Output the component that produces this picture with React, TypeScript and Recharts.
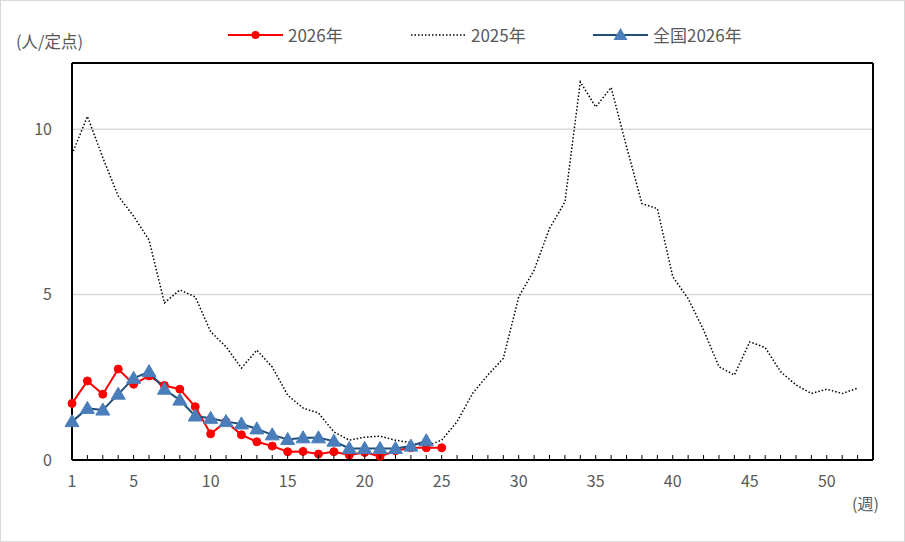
import React from 'react';
import { ComposedChart, Line, XAxis, YAxis, CartesianGrid, ReferenceLine } from 'recharts';

const weeks = [1,2,3,4,5,6,7,8,9,10,11,12,13,14,15,16,17,18,19,20,21,22,23,24,25,26,27,28,29,30,31,32,33,34,35,36,37,38,39,40,41,42,43,44,45,46,47,48,49,50,51,52];

const pref2026 = [1.71,2.39,1.99,2.75,2.29,2.54,2.25,2.14,1.61,0.79,1.16,0.76,0.55,0.42,0.25,0.26,0.18,0.25,0.15,0.23,0.11,0.28,0.37,0.37,0.37];

const pref2025 = [9.24,10.39,9.14,7.98,7.37,6.65,4.75,5.14,4.93,3.88,3.42,2.78,3.32,2.81,1.96,1.57,1.42,0.85,0.6,0.69,0.72,0.6,0.52,0.42,0.6,1.16,2.01,2.57,3.07,4.93,5.74,7.0,7.8,11.43,10.67,11.26,9.47,7.75,7.6,5.54,4.88,3.93,2.82,2.57,3.57,3.4,2.67,2.27,2.01,2.14,2.01,2.17];

const national2026 = [1.16,1.56,1.51,1.99,2.47,2.67,2.14,1.81,1.33,1.26,1.16,1.09,0.94,0.76,0.62,0.67,0.67,0.57,0.35,0.35,0.35,0.35,0.42,0.58];

const xTicks = [1,2,3,4,5,6,7,8,9,10,11,12,13,14,15,16,17,18,19,20,21,22,23,24,25,26,27,28,29,30,31,32,33,34,35,36,37,38,39,40,41,42,43,44,45,46,47,48,49,50,51,52,53];
const xLabels = [1,5,10,15,20,25,30,35,40,45,50];
const yTicks = [0,5,10];

const data = weeks.map((w, i) => ({
  week: w,
  p2026: i < pref2026.length ? pref2026[i] : undefined,
  p2025: pref2025[i],
  n2026: i < national2026.length ? national2026[i] : undefined,
}));

const RED = '#FF0000';
const NAVY = '#1F4E79';
const TRI = '#4A7EBB';
const GRAY_TEXT = '#595959';
const FONT = '"Noto Sans CJK JP", "Noto Sans", sans-serif';

const XTick = (props: any) => {
  const { x, y, payload } = props;
  const show = xLabels.includes(payload.value);
  return (
    <g>
      <line x1={x} x2={x} y1={y} y2={y - 5} stroke="#000" strokeWidth={1} />
      {show && (
        <text x={x} y={y + 27} textAnchor="middle" fill={GRAY_TEXT} fontSize={16} fontFamily={FONT}>
          {payload.value}
        </text>
      )}
    </g>
  );
};

const Triangle = (props: any) => {
  const { cx, cy, index } = props;
  if (cx == null || cy == null) return <g key={index} />;
  return (
    <polygon
      key={index}
      points={`${cx},${cy - 7} ${cx - 7},${cy + 5} ${cx + 7},${cy + 5}`}
      fill={TRI}
      stroke={TRI}
      strokeWidth={1}
    />
  );
};

const legendText: React.CSSProperties = {
  position: 'absolute',
  top: 23,
  fontSize: 17,
  color: GRAY_TEXT,
  fontFamily: FONT,
  lineHeight: '22px',
  whiteSpace: 'nowrap',
};

export default function App() {
  return (
    <div
      style={{
        position: 'absolute',
        left: 0,
        top: 0,
        width: 905,
        height: 542,
        border: '1px solid #d9d9d9',
        boxSizing: 'border-box',
        background: '#fff',
        fontFamily: FONT,
      }}
    >
      <div style={{ position: 'absolute', left: -1, top: -1 }}>
        <ComposedChart
          width={905}
          height={542}
          data={data}
          margin={{ top: 63, right: 32, bottom: 52, left: 12 }}
        >
          <CartesianGrid horizontal vertical={false} stroke="#d9d9d9" strokeWidth={1.5} />
          <XAxis
            dataKey="week"
            type="number"
            domain={[1, 53]}
            ticks={xTicks}
            interval={0}
            height={30}
            tick={<XTick />}
            tickLine={false}
            tickSize={0}
            tickMargin={0}
            axisLine={{ stroke: '#000', strokeWidth: 2 }}
          />
          <YAxis
            type="number"
            domain={[0, 12]}
            ticks={yTicks}
            width={60}
            tickLine={false}
            tickSize={0}
            tickMargin={20}
            axisLine={{ stroke: '#000', strokeWidth: 2 }}
            tick={{ fill: GRAY_TEXT, fontSize: 16, fontFamily: FONT }}
          />
          <ReferenceLine y={12} stroke="#000" strokeWidth={2} />
          <ReferenceLine x={53} stroke="#000" strokeWidth={2} />
          <Line
            dataKey="p2025"
            type="linear"
            stroke="#000"
            strokeWidth={1.5}
            strokeDasharray="1.5 2"
            dot={false}
            isAnimationActive={false}
          />
          <Line
            dataKey="p2026"
            type="linear"
            stroke={RED}
            strokeWidth={2}
            dot={{ r: 4, fill: RED, stroke: RED, strokeWidth: 1 }}
            isAnimationActive={false}
          />
          <Line
            dataKey="n2026"
            type="linear"
            stroke={NAVY}
            strokeWidth={2}
            dot={<Triangle />}
            isAnimationActive={false}
          />
        </ComposedChart>
      </div>

      <div style={{ position: 'absolute', left: 15, top: 28, fontSize: 16.5, color: GRAY_TEXT, fontFamily: FONT, whiteSpace: 'nowrap' }}>
        (人/定点)
      </div>
      <div style={{ position: 'absolute', left: 851, top: 490, fontSize: 16, color: GRAY_TEXT, fontFamily: FONT, whiteSpace: 'nowrap' }}>
        (週)
      </div>

      <svg style={{ position: 'absolute', left: 0, top: 0 }} width={905} height={60}>
        <line x1={227} x2={282} y1={34} y2={34} stroke={RED} strokeWidth={2} />
        <circle cx={254.5} cy={34} r={4} fill={RED} />
        <line x1={410} x2={466} y1={34} y2={34} stroke="#000" strokeWidth={1.5} strokeDasharray="1.5 2" />
        <line x1={592} x2={647} y1={34} y2={34} stroke={NAVY} strokeWidth={2} />
        <polygon points="619.5,27 612.5,39 626.5,39" fill={TRI} />
      </svg>
      <div style={{ ...legendText, left: 287 }}>2026年</div>
      <div style={{ ...legendText, left: 470 }}>2025年</div>
      <div style={{ ...legendText, left: 652 }}>全国2026年</div>
    </div>
  );
}
